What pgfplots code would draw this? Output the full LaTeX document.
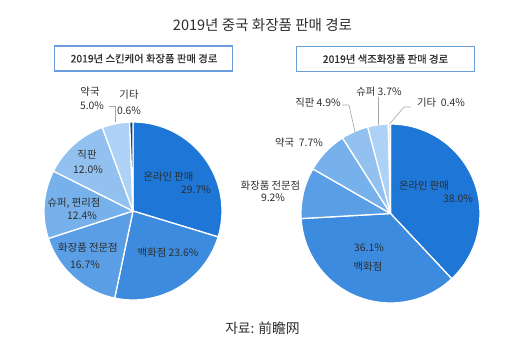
\documentclass[border=0pt]{standalone}
\usepackage{pgfplots}
\usepackage{pgfplotstable}
\pgfplotsset{compat=1.18}
\usepackage{fontspec}
\setmainfont{Noto Sans CJK KR}
\newfontfamily\boldish[FakeBold=0.6]{Noto Sans CJK KR}

\definecolor{c1}{HTML}{1E76D6}
\definecolor{c2}{HTML}{3C8BDF}
\definecolor{c3}{HTML}{5A9EE6}
\definecolor{c4}{HTML}{77B1EB}
\definecolor{c5}{HTML}{92C1EF}
\definecolor{c6}{HTML}{ADD2F5}
\definecolor{c7}{HTML}{1F3D6E}
\definecolor{c8}{HTML}{D2E5F8}
\definecolor{txt}{HTML}{2E2E2E}
\definecolor{boxc}{HTML}{6A9FDC}
\definecolor{lead}{HTML}{A6A6A6}

% skincare channels (share %)
\pgfplotstableread{
v   c
29.7 c1
23.6 c2
16.7 c3
12.4 c4
12.0 c5
5.0  c6
0.6  c7
}\skincare

% colour cosmetics channels (share %)
\pgfplotstableread{
v   c
38.0 c1
36.1 c2
9.2  c3
7.7  c4
4.9  c5
3.7  c6
0.4  c8
}\makeup

% #1 table, #2 cx, #3 cy, #4 r
\newcommand\pieslices[4]{%
  \def\cum{0}%
  \pgfplotsforeachungrouped \i in {0,...,6}{%
    \pgfplotstablegetelem{\i}{v}\of#1\let\val\pgfplotsretval
    \pgfplotstablegetelem{\i}{c}\of#1\let\col\pgfplotsretval
    \pgfmathsetmacro\aa{90-3.6*\cum}%
    \pgfmathsetmacro\cum{\cum+\val}%
    \pgfmathsetmacro\bb{90-3.6*\cum}%
    \edef\temp{\noexpand\addplot[fill=\col, draw=white, line width=1.3pt, line join=round,
      domain=\bb:\aa, samples=60, variable=\noexpand\t]
      ({#2+#4*cos(\noexpand\t)},{#3+#4*sin(\noexpand\t)}) -- (axis cs:#2,#3) -- cycle;}%
    \temp
  }%
}

\begin{document}
\begin{tikzpicture}
\begin{axis}[x=1bp, y=1bp, xmin=0, xmax=525, ymin=0, ymax=356,
  hide axis, scale only axis, clip=false]
  \pieslices{\skincare}{133}{145}{89}
  \pieslices{\makeup}{390.5}{142.5}{89.5}

  % title
  \node[txt, font=\fontsize{14.6}{17}\selectfont] at (axis cs:262.5,331) {2019년 중국 화장품 판매 경로};
  % sub titles in boxes
  \draw[boxc, line width=1.4pt, fill=white] (axis cs:54.5,285) rectangle (axis cs:232.5,310);
  \node[txt, font=\boldish\fontsize{10.4}{12}\selectfont] at (axis cs:144,297.5) {2019년 스킨케어 화장품 판매 경로};
  \draw[boxc, line width=1.4pt, fill=white] (axis cs:296.5,284.5) rectangle (axis cs:474.5,309.5);
  \node[txt, font=\boldish\fontsize{10.4}{12}\selectfont] at (axis cs:385.5,297) {2019년 색조화장품 판매 경로};
  % source
  \node[txt, font=\fontsize{13.8}{16}\selectfont] at (axis cs:262.5,28) {자료: 前瞻网};

  % leader lines
  \draw[lead, line width=0.6pt] (axis cs:109,250) -- (axis cs:115,250) -- (axis cs:115,234);
  \draw[lead, line width=0.6pt] (axis cs:342,251) -- (axis cs:349,251) -- (axis cs:355,224);
  \draw[lead, line width=0.6pt] (axis cs:378,259) -- (axis cs:378,231);
  \draw[lead, line width=0.6pt] (axis cs:411,249) -- (axis cs:404,249) -- (axis cs:389.5,232);

  % left labels
  \begin{scope}[every node/.style={txt, font=\fontsize{10.4}{12}\selectfont, inner sep=0pt}]
  \node at (axis cs:90,264) {약국};
  \node at (axis cs:92,250) {5.0\%};
  \node at (axis cs:129,261) {기타};
  \node at (axis cs:129,245) {0.6\%};
  \node at (axis cs:87,201) {직판};
  \node at (axis cs:88,186) {12.0\%};
  \node at (axis cs:74,153) {슈퍼, 편리점};
  \node at (axis cs:82,140) {12.4\%};
  \node at (axis cs:88,108) {화장품 전문점};
  \node at (axis cs:85,91) {16.7\%};
  \node at (axis cs:168,103) {백화점 23.6\%};
  \node at (axis cs:168.5,179) {온라인 판매};
  \node at (axis cs:196,166) {29.7\%};
  % right labels
  \node at (axis cs:424,170) {온라인 판매};
  \node at (axis cs:458,157) {38.0\%};
  \node at (axis cs:369,108) {36.1\%};
  \node at (axis cs:368,89) {백화점};
  \node at (axis cs:270.5,170) {화장품 전문점};
  \node at (axis cs:273,158) {9.2\%};
  \node at (axis cs:299,213) {약국\ \ 7.7\%};
  \node at (axis cs:318,253) {직판 4.9\%};
  \node at (axis cs:379,264) {슈퍼 3.7\%};
  \node at (axis cs:441,253) {기타\ \ 0.4\%};
  \end{scope}
\end{axis}
\path (0,0) rectangle (525bp,356bp);
\end{tikzpicture}
\end{document}
